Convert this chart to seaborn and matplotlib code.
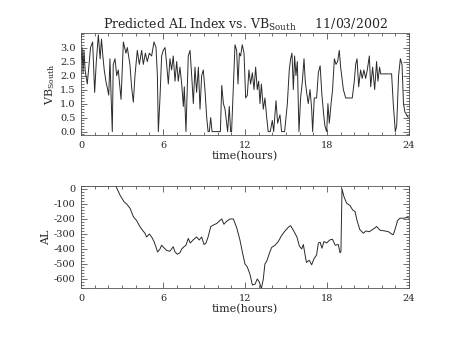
import numpy as np
import pandas as pd
import seaborn as sns
import matplotlib
matplotlib.use("Agg")
import matplotlib.pyplot as plt
from matplotlib.ticker import MultipleLocator

# --- data ---
vb_time = [0.0, 0.08, 0.15, 0.22, 0.3, 0.46, 0.7, 0.85, 1.0, 1.12, 1.27, 1.4, 1.5, 1.6, 1.7, 1.82, 1.93, 2.03,
           2.12, 2.2, 2.29, 2.36, 2.49, 2.61, 2.73, 2.93, 3.1, 3.29, 3.39, 3.58, 3.7, 3.83, 3.95, 4.12, 4.27,
           4.44, 4.56, 4.71, 4.85, 5.0, 5.17, 5.34, 5.49, 5.59, 5.66, 5.78, 5.9, 6.02, 6.15, 6.27, 6.39, 6.51,
           6.63, 6.75, 6.88, 7.0, 7.12, 7.24, 7.37, 7.49, 7.56, 7.68, 7.85, 7.98, 8.1, 8.22, 8.34, 8.46, 8.59,
           8.71, 8.83, 8.95, 9.07, 9.2, 9.3, 9.39, 9.49, 9.59, 9.7, 10.0, 10.2, 10.3, 10.42, 10.54, 10.66,
           10.73, 10.85, 10.95, 11.02, 11.15, 11.27, 11.39, 11.49, 11.59, 11.68, 11.8, 11.93, 12.05, 12.17,
           12.29, 12.41, 12.54, 12.66, 12.78, 12.9, 13.0, 13.1, 13.2, 13.34, 13.46, 13.59, 13.7, 13.85, 14.0,
           14.1, 14.27, 14.39, 14.56, 14.68, 14.9, 15.1, 15.24, 15.34, 15.44, 15.54, 15.63, 15.73, 15.83,
           15.95, 16.07, 16.2, 16.32, 16.41, 16.51, 16.63, 16.76, 16.88, 16.95, 17.07, 17.24, 17.37, 17.5,
           17.63, 17.76, 17.85, 17.98, 18.07, 18.17, 18.3, 18.41, 18.54, 18.66, 18.78, 18.9, 19.0, 19.2,
           19.37, 19.6, 19.85, 20.0, 20.1, 20.2, 20.32, 20.46, 20.58, 20.7, 20.83, 20.95, 21.1, 21.2, 21.34,
           21.49, 21.63, 21.73, 21.85, 21.93, 22.73, 22.85, 23.0, 23.1, 23.24, 23.37, 23.49, 23.6, 23.7,
           23.83, 23.95]
vb_south = [2.5, 3.0, 2.1, 2.9, 2.2, 1.7, 3.0, 3.2, 1.4, 2.5, 3.45, 2.6, 3.3, 2.7, 2.2, 1.8, 1.55, 1.3,
            2.6, 1.3, 0.0, 2.4, 2.6, 2.0, 2.2, 1.15, 3.2, 2.8, 3.0, 2.4, 1.6, 1.05, 2.0, 2.9, 2.4,
            2.9, 2.4, 2.8, 2.5, 2.8, 2.7, 3.2, 3.0, 2.0, 0.0, 1.2, 2.7, 2.9, 3.0, 2.4, 1.7, 2.6,
            2.2, 2.7, 1.8, 2.5, 1.8, 2.3, 1.7, 0.9, 1.6, 0.0, 2.7, 2.9, 2.0, 1.0, 2.3, 1.4, 2.3,
            0.8, 2.0, 2.2, 1.5, 0.5, 0.0, 0.0, 0.5, 0.0, 0.0, 0.0, 0.0, 1.65, 1.0, 0.8, 0.3,
            0.0, 0.9, 0.0, 0.0, 1.6, 3.1, 2.9, 1.7, 2.8, 2.7, 3.1, 2.8, 1.2, 1.3,
            2.2, 1.7, 2.1, 1.5, 2.3, 1.5, 1.8, 1.0, 1.7, 0.8, 1.2, 0.5, 0.0, 0.0, 0.4,
            0.0, 1.1, 0.3, 0.6, 0.0, 0.0, 1.0, 2.2, 2.6, 2.8, 1.5, 2.7, 2.0, 2.5,
            0.0, 1.2, 1.8, 2.6, 1.8, 1.4, 1.0, 1.5, 0.8, 0.0, 1.2, 1.2, 2.1, 2.35,
            1.3, 0.6, 0.2, 0.0, 1.0, 0.3, 1.0, 1.5, 2.6, 2.4, 2.5, 2.9, 2.3, 1.5,
            1.2, 1.2, 1.2, 1.8, 2.4, 2.6, 1.6, 2.2, 1.9, 2.2, 1.9, 2.2, 2.7, 1.6, 2.3,
            1.5, 2.5, 1.8, 2.3, 2.06, 2.06, 1.0, 0.0, 0.2, 2.0, 2.6, 2.4, 1.0, 0.7,
            0.6, 0.5]

al_time = [0.0, 2.55, 2.85, 3.15, 3.34, 3.6, 3.83, 4.07, 4.3, 4.5, 4.68, 4.8, 5.0, 5.17, 5.34, 5.5, 5.6,
           5.78, 5.9, 6.05, 6.27, 6.5, 6.63, 6.75, 6.88, 7.05, 7.24, 7.37, 7.54, 7.68, 7.85, 8.0, 8.2, 8.46,
           8.65, 8.83, 9.0, 9.15, 9.3, 9.5, 9.7, 9.93, 10.1, 10.3, 10.46, 10.66, 10.9, 11.15, 11.4, 11.63,
           11.83, 12.0, 12.17, 12.37, 12.54, 12.73, 12.9, 13.05, 13.2, 13.34, 13.46, 13.6, 13.78, 13.95,
           14.2, 14.44, 14.68, 14.93, 15.17, 15.34, 15.54, 15.8, 15.98, 16.15, 16.27, 16.4, 16.5, 16.7,
           16.88, 17.05, 17.24, 17.37, 17.5, 17.63, 17.78, 17.98, 18.2, 18.4, 18.6, 18.83, 18.95, 19.02,
           19.1, 19.24, 19.44, 19.68, 19.88, 20.05, 20.2, 20.4, 20.66, 20.85, 21.1, 21.34, 21.5, 21.63,
           21.88, 22.24, 22.5, 22.73, 22.85, 22.98, 23.17, 23.34, 23.6, 23.9, 24.0]
al_index = [20, 20, -40, -85, -100, -130, -185, -210, -250, -275, -295, -320, -300, -320, -350, -390, -420,
            -400, -375, -390, -410, -415, -400, -385, -420, -435, -425, -400, -385, -375, -330, -360, -340, -320,
            -340, -320, -370, -360, -320, -250, -240, -230, -215, -200, -235, -215, -200, -200, -260, -340,
            -430, -500, -520, -570, -640, -635, -600, -620, -665, -600, -500, -480, -430, -390,
            -375, -350, -310, -280, -255, -245, -275, -320, -380, -400, -370, -440, -490, -475,
            -505, -465, -440, -360, -355, -395, -350, -360, -340, -335, -375, -370, -425, -420,
            0, -50, -95, -110, -140, -150, -210, -270, -295, -280, -285, -270, -260, -250,
            -275, -280, -285, -300, -305, -270, -210, -195, -195, -190, -195]

x_ticks = [0, 6, 12, 18, 24]
vb_ticks = [0.0, 0.5, 1.0, 1.5, 2.0, 2.5, 3.0]
al_ticks = [0, -100, -200, -300, -400, -500, -600]

vb_df = pd.DataFrame({"time": vb_time, "vb": vb_south})
al_df = pd.DataFrame({"time": al_time, "al": al_index})

sns.set_style("ticks")
plt.rcParams["font.family"] = ["DejaVu Serif"]
plt.rcParams["mathtext.fontset"] = "dejavuserif"
plt.rcParams["axes.unicode_minus"] = False

fig = plt.figure(figsize=(4.53, 3.40), dpi=100)
ax1 = fig.add_axes([0.1788, 0.603, 0.724, 0.300])
ax2 = fig.add_axes([0.1788, 0.153, 0.724, 0.300])

sns.lineplot(data=vb_df, x="time", y="vb", ax=ax1, color="#2a2a2a", lw=0.7)
sns.lineplot(data=al_df, x="time", y="al", ax=ax2, color="#2a2a2a", lw=0.7)

fs = 7
for ax in (ax1, ax2):
    ax.set_xlim(0, 24)
    ax.set_xticks(x_ticks)
    ax.set_xticklabels([str(t) for t in x_ticks], fontsize=fs)
    ax.xaxis.set_minor_locator(MultipleLocator(1))
    ax.tick_params(which="both", direction="in", top=True, right=True, color="#555555", width=0.6)
    ax.tick_params(which="major", length=4, pad=4)
    ax.tick_params(which="minor", length=2)
    for s in ax.spines.values():
        s.set_linewidth(0.6)
        s.set_color("#555555")
    ax.set_xlabel("time(hours)", fontsize=8, labelpad=1)

ax1.set_ylim(-0.12, 3.52)
ax1.set_yticks(vb_ticks)
ax1.set_yticklabels([f"{v:.1f}" for v in vb_ticks], fontsize=fs)
ax1.yaxis.set_minor_locator(MultipleLocator(0.1))
ax1.set_ylabel(r"VB$_{\mathrm{South}}$", fontsize=8, labelpad=2)
ax1.set_title(r"Predicted AL Index vs. VB$_{\mathrm{South}}$     11/03/2002", fontsize=9, pad=3)

ax2.set_ylim(-660, 20)
ax2.set_yticks(al_ticks)
ax2.set_yticklabels([str(v) for v in al_ticks], fontsize=fs)
ax2.yaxis.set_minor_locator(MultipleLocator(20))
ax2.set_ylabel("AL", fontsize=8, labelpad=2)

fig.savefig("out.png", dpi=100, facecolor="white")
